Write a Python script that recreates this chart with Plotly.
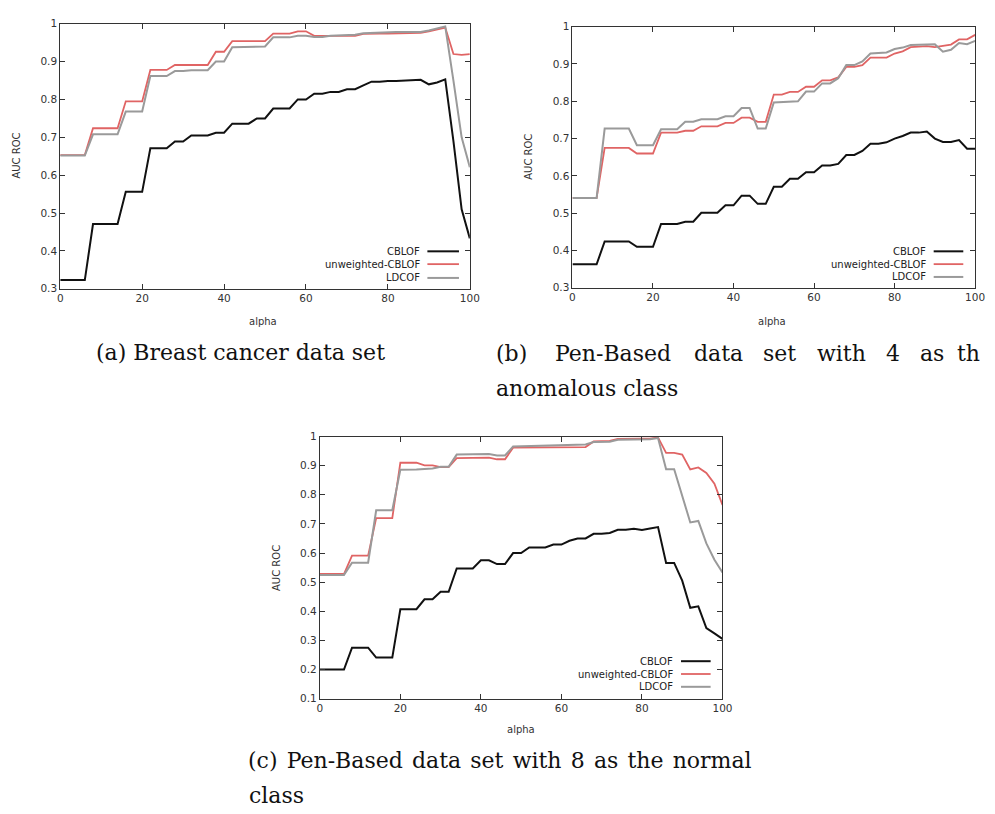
import plotly.graph_objects as go

# ---------------- data ----------------
ALPHA = [0, 2, 4, 6, 8, 10, 12, 14, 16, 18, 20, 22, 24, 26, 28, 30, 32, 34, 36, 38, 40,
         42, 44, 46, 48, 50, 52, 54, 56, 58, 60, 62, 64, 66, 68, 70, 72, 74, 76, 78, 80,
         82, 84, 86, 88, 90, 92, 94, 96, 98, 100]

SERIES_NAMES = ["CBLOF", "unweighted-CBLOF", "LDCOF"]

# (a) Breast cancer
A_CBLOF = [0.323, 0.323, 0.323, 0.323, 0.471, 0.471, 0.471, 0.471, 0.556, 0.556, 0.556,
           0.671, 0.671, 0.671, 0.689, 0.689, 0.705, 0.705, 0.705, 0.712, 0.712,
           0.736, 0.736, 0.736, 0.750, 0.750, 0.776, 0.776, 0.776, 0.800, 0.800,
           0.815, 0.815, 0.820, 0.820, 0.827, 0.827, 0.837, 0.847, 0.847,
           0.849, 0.849, 0.850, 0.851, 0.852, 0.840, 0.845, 0.853, 0.690, 0.510, 0.433]
A_UNW = [0.653, 0.653, 0.653, 0.653, 0.724, 0.724, 0.724, 0.724, 0.795, 0.795, 0.795,
         0.878, 0.878, 0.878, 0.891, 0.891, 0.891, 0.891, 0.891, 0.926, 0.926,
         0.954, 0.954, 0.954, 0.954, 0.954, 0.974, 0.974, 0.974, 0.980, 0.980,
         0.968, 0.968, 0.968, 0.968, 0.968, 0.968,
         0.973, 0.974, 0.974, 0.974, 0.974, 0.975, 0.975, 0.976,
         0.980, 0.985, 0.990, 0.920, 0.918, 0.920]
A_LDCOF = [0.652, 0.652, 0.652, 0.652, 0.708, 0.708, 0.708, 0.708, 0.768, 0.768, 0.768,
           0.862, 0.862, 0.862, 0.875, 0.875, 0.877, 0.877, 0.877, 0.900, 0.900,
           0.938, 0.938, 0.938, 0.940, 0.940, 0.964, 0.964, 0.964, 0.968, 0.968,
           0.965, 0.965, 0.968, 0.969, 0.970, 0.971,
           0.975, 0.976, 0.977, 0.977, 0.978, 0.978, 0.978, 0.978,
           0.982, 0.987, 0.993, 0.850, 0.700, 0.621]

# (b) Pen-Based, 4 anomalous
B_CBLOF = [0.363, 0.363, 0.363, 0.363, 0.424, 0.424, 0.424, 0.424, 0.410, 0.410, 0.410,
           0.471, 0.471, 0.471, 0.477, 0.477, 0.501, 0.501, 0.501, 0.521, 0.521,
           0.547, 0.547, 0.525, 0.525, 0.571, 0.571, 0.592, 0.592, 0.610, 0.610,
           0.628, 0.628, 0.632, 0.656, 0.656, 0.667, 0.686, 0.686, 0.690, 0.700,
           0.707, 0.716, 0.716, 0.719, 0.700, 0.691, 0.691, 0.696, 0.673, 0.673]
B_UNW = [0.541, 0.541, 0.541, 0.541, 0.675, 0.675, 0.675, 0.675, 0.660, 0.660, 0.660,
         0.716, 0.716, 0.716, 0.721, 0.721, 0.733, 0.733, 0.733, 0.742, 0.742,
         0.756, 0.756, 0.745, 0.745, 0.818, 0.818, 0.825, 0.825, 0.839, 0.839,
         0.856, 0.856, 0.864, 0.892, 0.892, 0.897, 0.917, 0.917, 0.917, 0.928,
         0.934, 0.945, 0.946, 0.948, 0.945, 0.949, 0.952, 0.966, 0.966, 0.978]
B_LDCOF = [0.541, 0.541, 0.541, 0.541, 0.727, 0.727, 0.727, 0.727, 0.682, 0.682, 0.682,
           0.725, 0.725, 0.725, 0.745, 0.745, 0.752, 0.752, 0.752, 0.760, 0.760,
           0.782, 0.782, 0.727, 0.727, 0.797, 0.798, 0.800, 0.800, 0.826, 0.826,
           0.848, 0.848, 0.862, 0.897, 0.897, 0.907, 0.928, 0.929, 0.931, 0.940,
           0.944, 0.951, 0.951, 0.952, 0.953, 0.933, 0.938, 0.956, 0.953, 0.962]

# (c) Pen-Based, 8 normal
C_CBLOF = [0.200, 0.200, 0.200, 0.200, 0.275, 0.275, 0.275, 0.241, 0.241, 0.241,
           0.407, 0.407, 0.407, 0.441, 0.441, 0.467, 0.467, 0.547, 0.547, 0.547,
           0.575, 0.575, 0.562, 0.562, 0.600, 0.600, 0.619, 0.619, 0.619, 0.629, 0.629,
           0.642, 0.650, 0.650, 0.666, 0.666, 0.669, 0.680, 0.680, 0.683, 0.679,
           0.684, 0.689, 0.566, 0.566, 0.505, 0.412, 0.417, 0.342, 0.324, 0.305]
C_UNW = [0.528, 0.528, 0.528, 0.528, 0.591, 0.591, 0.591, 0.720, 0.720, 0.720,
         0.910, 0.910, 0.910, 0.901, 0.901, 0.895, 0.895,
         0.926, 0.927, 0.927, 0.928, 0.928, 0.922, 0.922,
         0.962, 0.962, 0.963, 0.963, 0.963, 0.963, 0.963, 0.964, 0.964, 0.964,
         0.983, 0.984, 0.985, 0.992, 0.993, 0.993, 0.993, 0.993, 0.997,
         0.944, 0.944, 0.938, 0.887, 0.894, 0.875, 0.838, 0.765]
C_LDCOF = [0.525, 0.525, 0.525, 0.525, 0.567, 0.567, 0.567, 0.747, 0.747, 0.747,
           0.886, 0.886, 0.887, 0.889, 0.890, 0.896, 0.896, 0.938, 0.938, 0.938,
           0.940, 0.940, 0.935, 0.935,
           0.966, 0.967, 0.968, 0.969, 0.969, 0.970, 0.970, 0.971, 0.972, 0.973,
           0.981, 0.981, 0.982, 0.989, 0.990, 0.990, 0.990, 0.991, 0.995,
           0.888, 0.888, 0.799, 0.705, 0.710, 0.633, 0.577, 0.533]

X_TICKS = [0, 20, 40, 60, 80, 100]
Y_TICKS_AB = [0.3, 0.4, 0.5, 0.6, 0.7, 0.8, 0.9, 1.0]
Y_TICKTEXT_AB = ["0.3", "0.4", "0.5", "0.6", "0.7", "0.8", "0.9", "1"]
Y_TICKS_C = [0.1, 0.2, 0.3, 0.4, 0.5, 0.6, 0.7, 0.8, 0.9, 1.0]
Y_TICKTEXT_C = ["0.1", "0.2", "0.3", "0.4", "0.5", "0.6", "0.7", "0.8", "0.9", "1"]

# ---------------- layout helpers ----------------
W, H = 995, 814
def px(x):
    return x / W
def py(y):
    return 1 - y / H

COLORS = ["#111111", "#e06464", "#9a9a9a"]
WIDTHS = [2.0, 1.8, 2.0]
SANS = "DejaVu Sans, sans-serif"
SERIF = "DejaVu Serif, serif"
AXC = "#333333"

panels = [
    dict(box=(58, 473, 18, 287), data=[A_CBLOF, A_UNW, A_LDCOF],
         yr=[0.3, 1.0], yt=Y_TICKS_AB, ytt=Y_TICKTEXT_AB,
         ytitle=(14, 152), xtitle=(263, 320), legx=(425, 430, 462), legy=[249, 262, 276]),
    dict(box=(577, 985, 21, 286), data=[B_CBLOF, B_UNW, B_LDCOF],
         yr=[0.3, 1.0], yt=Y_TICKS_AB, ytt=Y_TICKTEXT_AB,
         ytitle=(533, 153), xtitle=(779, 320), legx=(937, 943, 973), legy=[249, 262, 275]),
    dict(box=(321, 729, 437, 703), data=[C_CBLOF, C_UNW, C_LDCOF],
         yr=[0.1, 1.0], yt=Y_TICKS_C, ytt=Y_TICKTEXT_C,
         ytitle=(277, 570), xtitle=(525, 734), legx=(681, 687, 717), legy=[665, 678, 691]),
]

fig = go.Figure()
annotations = []
shapes = []

for i, p in enumerate(panels):
    k = "" if i == 0 else str(i + 1)
    x0, x1, y0, y1 = p["box"]
    for j, ys in enumerate(p["data"]):
        fig.add_trace(go.Scatter(
            x=ALPHA, y=ys, mode="lines", name=SERIES_NAMES[j],
            line=dict(color=COLORS[j], width=WIDTHS[j]),
            xaxis="x" + k, yaxis="y" + k, showlegend=False))
    axcommon = dict(showline=True, linecolor=AXC, linewidth=1, mirror="ticks",
                    ticks="inside", ticklen=5, tickcolor=AXC, tickwidth=1,
                    showgrid=False, zeroline=False,
                    tickfont=dict(family=SANS, size=10.5, color=AXC))
    fig.update_layout(**{
        "xaxis" + k: dict(axcommon, domain=[px(x0), px(x1)], range=[0, 100],
                          tickvals=X_TICKS, anchor="y" + k),
        "yaxis" + k: dict(axcommon, domain=[py(y1), py(y0)], range=p["yr"],
                          tickvals=p["yt"], ticktext=p["ytt"], anchor="x" + k),
    })
    # axis titles
    annotations.append(dict(text="AUC ROC", x=px(p["ytitle"][0]), y=py(p["ytitle"][1]),
                            xref="paper", yref="paper", showarrow=False, textangle=-90,
                            font=dict(family=SANS, size=10, color=AXC),
                            xanchor="center", yanchor="middle"))
    annotations.append(dict(text="alpha", x=px(p["xtitle"][0]), y=py(p["xtitle"][1]),
                            xref="paper", yref="paper", showarrow=False,
                            font=dict(family=SANS, size=10, color=AXC),
                            xanchor="center", yanchor="middle"))
    # gnuplot-style key (text right-aligned, sample to the right)
    tx, sx0, sx1 = p["legx"]
    for j, name in enumerate(SERIES_NAMES):
        yy = p["legy"][j]
        annotations.append(dict(text=name, x=px(tx), y=py(yy), xref="paper", yref="paper",
                                showarrow=False, xanchor="right", yanchor="middle",
                                font=dict(family=SANS, size=10, color="#222222")))
        shapes.append(dict(type="line", xref="paper", yref="paper",
                           x0=px(sx0), x1=px(sx1), y0=py(yy), y1=py(yy),
                           line=dict(color=COLORS[j], width=WIDTHS[j])))

# captions (justified lines are laid out word by word)
CAP_FONT = dict(family=SERIF, size=22, color="#111111")

def caption_words(words, xs, y):
    for w, xx in zip(words, xs):
        annotations.append(dict(text=w, x=px(xx), y=py(y), xref="paper", yref="paper",
                                showarrow=False, xanchor="left", yanchor="middle",
                                font=CAP_FONT))

caption_words(["(a) Breast cancer data set"], [92], 352)
caption_words(["(b)", "Pen-Based", "data", "set", "with", "4", "as", "th"],
              [497, 557, 698, 768, 823, 893, 927, 965], 353)
caption_words(["anomalous class"], [497], 388)
CAP_C = "(c) Pen-Based data set with 8 as the normal"
caption_words([CAP_C.replace(" ", " \u200a")], [246], 766)
caption_words(["class"], [247], 801)

fig.update_layout(width=W, height=H, margin=dict(l=0, r=0, t=0, b=0),
                  paper_bgcolor="white", plot_bgcolor="white",
                  annotations=annotations, shapes=shapes, showlegend=False)

fig.write_html("out.html", config={"displayModeBar": False},
               post_script="document.body.style.margin='0';document.body.style.overflow='hidden';")
